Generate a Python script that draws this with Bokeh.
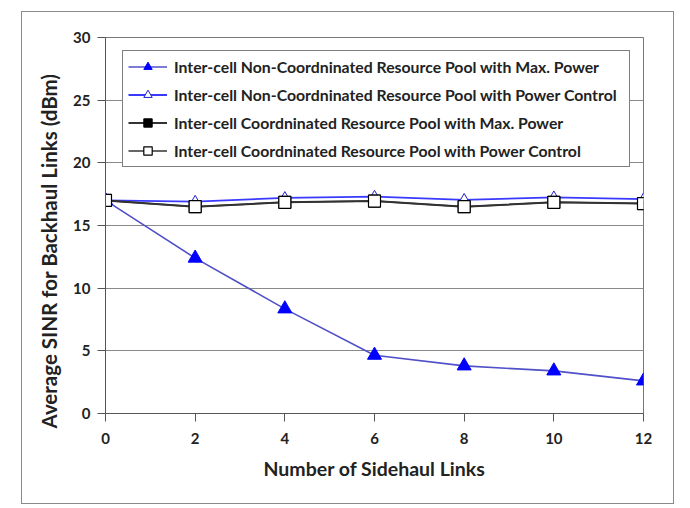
from bokeh.plotting import figure
from bokeh.models import Legend, LegendItem, FixedTicker, Range1d, Title
from bokeh.embed import file_html
from bokeh.resources import INLINE

# ---- data ----
x_links = [0, 2, 4, 6, 8, 10, 12]
noncoord_max = [17.0, 12.4, 8.35, 4.65, 3.8, 3.4, 2.6]
noncoord_pc = [17.0, 16.9, 17.2, 17.3, 17.05, 17.25, 17.1]
coord_max = [17.0, 16.5, 16.85, 16.95, 16.5, 16.85, 16.75]
coord_pc = [17.0, 16.5, 16.85, 16.95, 16.5, 16.85, 16.75]
labels = [
    "Inter-cell Non-Coordninated Resource Pool with Max. Power",
    "Inter-cell Non-Coordninated Resource Pool with Power Control",
    "Inter-cell Coordninated Resource Pool with Max. Power",
    "Inter-cell Coordninated Resource Pool with Power Control",
]
x_ticks = [0, 2, 4, 6, 8, 10, 12]
y_ticks = [0, 5, 10, 15, 20, 25, 30]
x_title = "Number of Sidehaul Links"
y_title = "Average SINR for Backhaul Links (dBm)"

FONT = "Lato"

p = figure(width=653, height=493, output_backend="svg", toolbar_location=None,
           x_range=Range1d(0, 12), y_range=Range1d(0, 30),
           min_border_left=83, min_border_right=32, min_border_top=25, min_border_bottom=92)
p.styles = {"border": "1px solid #8a8a8a", "margin-left": "21px", "margin-top": "11px"}

p.background_fill_color = "white"
p.border_fill_color = "white"
p.outline_line_color = "#777777"
p.outline_line_width = 1

p.xgrid.grid_line_color = None
p.ygrid.grid_line_color = "#8a8a8a"
p.ygrid.grid_line_width = 1
p.ygrid.ticker = FixedTicker(ticks=y_ticks)

p.xaxis.ticker = FixedTicker(ticks=x_ticks)
p.yaxis.ticker = FixedTicker(ticks=y_ticks)
for ax in (p.xaxis[0], p.yaxis[0]):
    ax.axis_line_color = "#555555"
    ax.major_tick_line_color = "#555555"
    ax.major_tick_out = 8
    ax.major_tick_in = 0
    ax.minor_tick_line_color = None
    ax.major_label_text_font = FONT
    ax.major_label_text_font_style = "bold"
    ax.major_label_text_font_size = "15px"
    ax.major_label_text_color = "#222222"

p.xaxis.major_label_standoff = 11
p.yaxis.major_label_standoff = 7

p.xaxis.axis_label = x_title
p.xaxis.axis_label_text_font = FONT
p.xaxis.axis_label_text_font_style = "bold"
p.xaxis.axis_label_text_font_size = "19.5px"
p.xaxis.axis_label_text_color = "#222222"
p.xaxis.axis_label_standoff = 10

ytitle = Title(text=y_title, align="left", offset=-15, standoff=19,
               text_font=FONT, text_font_style="bold", text_font_size="20.5px",
               text_color="#222222")
p.add_layout(ytitle, "left")

# series 1: filled triangles
l1 = p.line(x_links, noncoord_max, line_color="#5050c8", line_width=1.6)
m1 = p.scatter(x_links, noncoord_max, marker="triangle", size=14,
               fill_color="#0000ff", line_color="#0000ff")
# series 2: open triangles
l2 = p.line(x_links, noncoord_pc, line_color="#3a3aff", line_width=1.8)
m2 = p.scatter(x_links, noncoord_pc, marker="triangle", size=11,
               fill_color="white", line_color="#2020cc", line_width=1)
# series 3: filled squares
l3 = p.line(x_links, coord_max, line_color="#333333", line_width=2)
m3 = p.scatter(x_links, coord_max, marker="square", size=12,
               fill_color="black", line_color="black")
# series 4: open squares
l4 = p.line(x_links, coord_pc, line_color="#333333", line_width=1.5)
m4 = p.scatter(x_links, coord_pc, marker="square", size=12,
               fill_color="white", line_color="black", line_width=1.2)

legend = Legend(items=[
    LegendItem(label=labels[0], renderers=[l1, m1]),
    LegendItem(label=labels[1], renderers=[l2, m2]),
    LegendItem(label=labels[2], renderers=[l3, m3]),
    LegendItem(label=labels[3], renderers=[l4, m4]),
], location=(17, 246))
legend.label_text_font = FONT
legend.label_text_font_style = "bold"
legend.label_text_font_size = "15.8px"
legend.label_text_color = "#222222"
legend.glyph_height = 21
legend.glyph_width = 39
legend.label_height = 21
legend.label_width = 450
legend.spacing = 7
legend.padding = 5
legend.label_standoff = 7
legend.border_line_color = "black"
legend.border_line_width = 1
legend.background_fill_color = "white"
legend.background_fill_alpha = 1
p.add_layout(legend, "center")

open("out.html", "w").write(file_html(p, INLINE))
